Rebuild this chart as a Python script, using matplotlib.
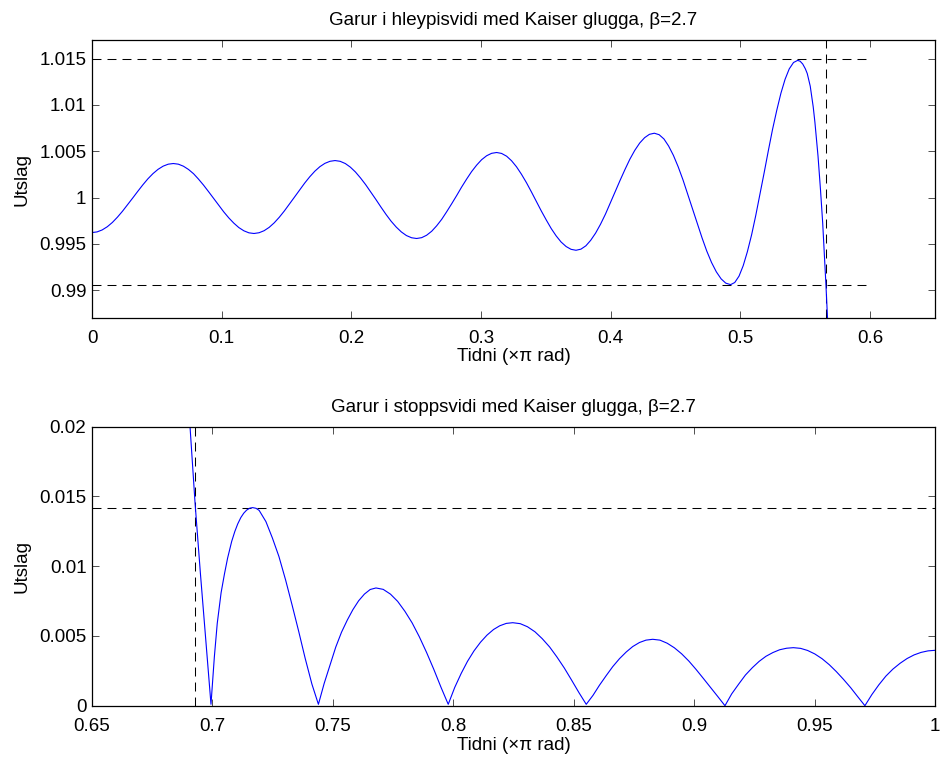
import matplotlib
matplotlib.use('Agg')
import matplotlib.pyplot as plt

plt.rcParams['font.family'] = ['Liberation Sans', 'DejaVu Sans']
plt.rcParams['font.size'] = 13.5

# ---------------- data ----------------
# passband magnitude: (frequency in units of pi, magnitude)
pass_band = [
    (0.0000, 0.99622), (0.0039, 0.99629), (0.0078, 0.99650), (0.0118, 0.99685),
    (0.0157, 0.99731), (0.0196, 0.99788), (0.0235, 0.99852), (0.0274, 0.99922),
    (0.0314, 0.99995), (0.0353, 1.00067), (0.0392, 1.00137), (0.0431, 1.00202),
    (0.0470, 1.00258), (0.0509, 1.00304), (0.0549, 1.00339), (0.0588, 1.00360),
    (0.0627, 1.00367),
    (0.0666, 1.00360), (0.0705, 1.00338), (0.0744, 1.00303), (0.0783, 1.00257),
    (0.0821, 1.00199), (0.0860, 1.00134), (0.0899, 1.00063), (0.0938, 0.99990),
    (0.0977, 0.99916), (0.1016, 0.99845), (0.1055, 0.99780), (0.1094, 0.99723),
    (0.1132, 0.99676), (0.1171, 0.99641), (0.1210, 0.99619), (0.1249, 0.99612),
    (0.1288, 0.99620), (0.1327, 0.99642), (0.1366, 0.99678), (0.1405, 0.99727),
    (0.1444, 0.99787), (0.1483, 0.99855), (0.1522, 0.99929), (0.1562, 1.00006),
    (0.1601, 1.00082), (0.1640, 1.00156), (0.1679, 1.00224), (0.1718, 1.00284),
    (0.1757, 1.00333), (0.1796, 1.00369), (0.1835, 1.00391), (0.1874, 1.00399),
    (0.1913, 1.00391), (0.1953, 1.00367), (0.1992, 1.00328), (0.2031, 1.00276),
    (0.2070, 1.00212), (0.2110, 1.00139), (0.2149, 1.00061), (0.2189, 0.99979),
    (0.2228, 0.99897), (0.2267, 0.99818), (0.2306, 0.99745), (0.2346, 0.99681),
    (0.2385, 0.99629), (0.2424, 0.99590), (0.2464, 0.99566), (0.2503, 0.99558),
    (0.2542, 0.99567), (0.2580, 0.99593), (0.2619, 0.99636), (0.2657, 0.99694),
    (0.2696, 0.99764), (0.2734, 0.99845), (0.2773, 0.99932), (0.2812, 1.00022),
    (0.2850, 1.00113), (0.2889, 1.00200), (0.2927, 1.00280), (0.2966, 1.00350),
    (0.3004, 1.00408), (0.3043, 1.00451), (0.3081, 1.00477), (0.3120, 1.00486),
    (0.3158, 1.00476), (0.3197, 1.00446), (0.3235, 1.00397), (0.3273, 1.00332),
    (0.3311, 1.00252), (0.3350, 1.00160), (0.3388, 1.00061), (0.3426, 0.99959),
    (0.3464, 0.99856), (0.3503, 0.99757), (0.3541, 0.99665), (0.3579, 0.99586),
    (0.3617, 0.99520), (0.3656, 0.99471), (0.3694, 0.99441), (0.3732, 0.99431),
    (0.3770, 0.99443), (0.3808, 0.99479), (0.3845, 0.99538), (0.3883, 0.99616),
    (0.3921, 0.99712), (0.3959, 0.99821), (0.3996, 0.99939), (0.4034, 1.00063),
    (0.4072, 1.00186), (0.4110, 1.00304), (0.4147, 1.00413), (0.4185, 1.00509),
    (0.4223, 1.00588), (0.4261, 1.00646), (0.4298, 1.00682), (0.4336, 1.00694),
    (0.4373, 1.00678), (0.4410, 1.00632), (0.4446, 1.00556), (0.4483, 1.00455),
    (0.4520, 1.00331), (0.4557, 1.00190), (0.4593, 1.00036), (0.4631, 0.99877),
    (0.4667, 0.99718), (0.4704, 0.99564), (0.4740, 0.99423), (0.4777, 0.99299),
    (0.4814, 0.99198), (0.4851, 0.99122), (0.4887, 0.99076), (0.4924, 0.99060),
    (0.4956, 0.99083), (0.4989, 0.99152), (0.5021, 0.99264), (0.5053, 0.99414),
    (0.5086, 0.99598), (0.5118, 0.99807), (0.5150, 1.00034), (0.5183, 1.00270),
    (0.5215, 1.00506), (0.5247, 1.00733), (0.5280, 1.00942), (0.5312, 1.01126),
    (0.5344, 1.01276), (0.5376, 1.01388), (0.5409, 1.01457), (0.5441, 1.01480),
    (0.5460, 1.01471), (0.5480, 1.01441), (0.5500, 1.01390), (0.5515, 1.01338),
    (0.5538, 1.01202), (0.5561, 1.00978), (0.5574, 1.00813), (0.5587, 1.00618),
    (0.5598, 1.00447), (0.5608, 1.00259), (0.5617, 1.00086), (0.5626, 0.99899),
    (0.5634, 0.99726), (0.5641, 0.99540), (0.5650, 0.99305), (0.5659, 0.99060),
    (0.5669, 0.98770), (0.5680, 0.98440),
]

# stopband magnitude: (frequency in units of pi, magnitude)
stop_band = [
    (0.6885, 0.02550), (0.6907, 0.02000), (0.6928, 0.01450), (0.6950, 0.00950),
    (0.6972, 0.00480), (0.6994, 0.00010),
    (0.7008, 0.00350), (0.7020, 0.00590), (0.7036, 0.00810), (0.7050, 0.00945),
    (0.7063, 0.01058), (0.7080, 0.01178), (0.7093, 0.01249), (0.7105, 0.01303),
    (0.7118, 0.01349), (0.7130, 0.01380), (0.7142, 0.01402), (0.7155, 0.01416),
    (0.7167, 0.01420),
    (0.7181, 0.01415), (0.7194, 0.01400), (0.7222, 0.01320), (0.7249, 0.01202),
    (0.7276, 0.01070), (0.7304, 0.00900), (0.7331, 0.00720), (0.7358, 0.00534),
    (0.7385, 0.00340), (0.7413, 0.00155), (0.7440, 0.00010),
    (0.7464, 0.00160), (0.7488, 0.00290), (0.7512, 0.00420), (0.7536, 0.00527),
    (0.7560, 0.00614), (0.7583, 0.00688), (0.7607, 0.00752), (0.7631, 0.00800),
    (0.7655, 0.00833), (0.7679, 0.00844),
    (0.7709, 0.00834), (0.7739, 0.00800), (0.7769, 0.00748), (0.7799, 0.00677),
    (0.7829, 0.00594), (0.7859, 0.00494), (0.7889, 0.00382), (0.7919, 0.00261),
    (0.7949, 0.00132), (0.7979, 0.00010),
    (0.8006, 0.00131), (0.8033, 0.00232), (0.8059, 0.00318), (0.8086, 0.00393),
    (0.8113, 0.00455), (0.8140, 0.00506), (0.8167, 0.00546), (0.8193, 0.00573),
    (0.8220, 0.00590), (0.8247, 0.00595),
    (0.8278, 0.00588), (0.8308, 0.00566), (0.8339, 0.00530), (0.8369, 0.00481),
    (0.8400, 0.00421), (0.8430, 0.00350), (0.8461, 0.00270), (0.8491, 0.00184),
    (0.8522, 0.00093), (0.8552, 0.00010),
    (0.8580, 0.00074), (0.8607, 0.00147), (0.8635, 0.00216), (0.8662, 0.00280),
    (0.8690, 0.00337), (0.8718, 0.00385), (0.8745, 0.00424), (0.8773, 0.00453),
    (0.8800, 0.00470), (0.8828, 0.00476),
    (0.8858, 0.00470), (0.8888, 0.00448), (0.8918, 0.00415), (0.8948, 0.00372),
    (0.8978, 0.00320), (0.9008, 0.00260), (0.9038, 0.00196), (0.9068, 0.00131),
    (0.9098, 0.00066), (0.9128, 0.00000),
    (0.9156, 0.00085), (0.9185, 0.00155), (0.9213, 0.00220), (0.9242, 0.00273),
    (0.9270, 0.00318), (0.9298, 0.00354), (0.9327, 0.00381), (0.9355, 0.00401),
    (0.9384, 0.00412), (0.9412, 0.00416),
    (0.9442, 0.00411), (0.9471, 0.00396), (0.9501, 0.00371), (0.9531, 0.00337),
    (0.9561, 0.00294), (0.9590, 0.00245), (0.9620, 0.00189), (0.9650, 0.00129),
    (0.9679, 0.00065), (0.9709, 0.00000),
    (0.9738, 0.00080), (0.9767, 0.00150), (0.9796, 0.00212), (0.9825, 0.00262),
    (0.9855, 0.00304), (0.9884, 0.00338), (0.9913, 0.00364), (0.9942, 0.00382),
    (0.9971, 0.00393), (1.0000, 0.00397),
]

pass_hi = 1.015       # largest passband ripple
pass_lo = 0.9906      # smallest passband ripple
pass_edge = 0.5659    # passband edge
pass_guide_end = 0.6
stop_hi = 0.0142      # largest stopband ripple
stop_edge = 0.6928    # stopband edge

top_xticks = [0, 0.1, 0.2, 0.3, 0.4, 0.5, 0.6]
top_xlabels = ['0', '0.1', '0.2', '0.3', '0.4', '0.5', '0.6']
top_yticks = [0.99, 0.995, 1.0, 1.005, 1.01, 1.015]
top_ylabels = ['0.99', '0.995', '1', '1.005', '1.01', '1.015']
bot_xticks = [0.65, 0.7, 0.75, 0.8, 0.85, 0.9, 0.95, 1.0]
bot_xlabels = ['0.65', '0.7', '0.75', '0.8', '0.85', '0.9', '0.95', '1']
bot_yticks = [0, 0.005, 0.01, 0.015, 0.02]
bot_ylabels = ['0', '0.005', '0.01', '0.015', '0.02']

title_top = 'Garur i hleypisvidi med Kaiser glugga, β=2.7'
title_bot = 'Garur i stoppsvidi med Kaiser glugga, β=2.7'
xlabel = 'Tidni (×π rad)'
ylabel = 'Utslag'

pass_freq = [p[0] for p in pass_band]
pass_mag = [p[1] for p in pass_band]
stop_freq = [p[0] for p in stop_band]
stop_mag = [p[1] for p in stop_band]

# ---------------- figure ----------------
W, H = 944, 758
fig = plt.figure(figsize=(W / 100, H / 100), dpi=100)
ax1 = fig.add_axes([92 / W, 1 - 318 / H, 843 / W, 278 / H])
ax2 = fig.add_axes([92 / W, 1 - 705.7 / H, 843 / W, 279 / H])

dash = (0, (8.6, 5.8))
curve_kw = dict(color='#0000ff', lw=0.8, solid_joinstyle='round')
guide_kw = dict(color='black', lw=0.75, ls=dash)

# top panel
ax1.set_xlim(0, 0.65)
ax1.set_ylim(0.987, 1.017)
ax1.plot([0, pass_guide_end], [pass_hi, pass_hi], **guide_kw)
ax1.plot([0, pass_guide_end], [pass_lo, pass_lo], **guide_kw)
ax1.plot([pass_edge, pass_edge], [0.987, 1.017], **guide_kw)
ax1.plot(pass_freq, pass_mag, **curve_kw)
ax1.set_xticks(top_xticks, top_xlabels)
ax1.set_yticks(top_yticks, top_ylabels)
ax1.set_title(title_top, pad=10.8, fontsize=13.5)

# bottom panel
ax2.set_xlim(0.65, 1.0)
ax2.set_ylim(0, 0.02)
ax2.plot([0.65, 1.0], [stop_hi, stop_hi], **guide_kw)
ax2.plot([stop_edge, stop_edge], [0, 0.02], **guide_kw)
ax2.plot(stop_freq, stop_mag, **curve_kw)
ax2.set_xticks(bot_xticks, bot_xlabels)
ax2.set_yticks(bot_yticks, bot_ylabels)
ax2.set_title(title_bot, pad=10.8, fontsize=13.5)

for ax, xl_y in ((ax1, -0.108), (ax2, -0.111)):
    ax.tick_params(direction='in', top=True, right=True, length=5, width=0.6,
                   color='#333333')
    ax.tick_params(axis='x', pad=8.5)
    ax.tick_params(axis='y', pad=4)
    for s in ax.spines.values():
        s.set_linewidth(0.9)
    ax.set_xlabel(xlabel)
    ax.set_ylabel(ylabel)
    ax.xaxis.set_label_coords(0.5, xl_y)
    ax.yaxis.set_label_coords((30 - 92) / 843, 0.5)

fig.savefig('out.png', dpi=100)
